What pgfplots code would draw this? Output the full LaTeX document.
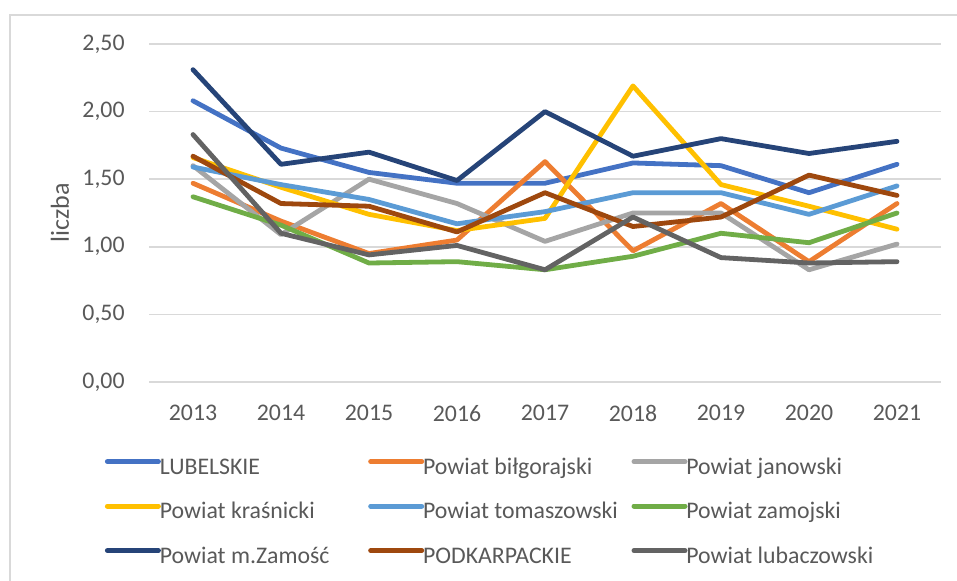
\documentclass[border=0pt]{standalone}
\usepackage{pgfplots}
\pgfplotsset{compat=1.18}
\usepackage{pgfplotstable}
\usepackage{fontspec}
\setmainfont{Carlito}

\definecolor{txt}{HTML}{595959}
\definecolor{gridc}{HTML}{D9D9D9}
\definecolor{cLub}{HTML}{4472C4}
\definecolor{cBil}{HTML}{ED7D31}
\definecolor{cJan}{HTML}{A5A5A5}
\definecolor{cKra}{HTML}{FFC000}
\definecolor{cTom}{HTML}{5B9BD5}
\definecolor{cZam}{HTML}{70AD47}
\definecolor{cMza}{HTML}{264478}
\definecolor{cPod}{HTML}{9E480E}
\definecolor{cLuba}{HTML}{636363}

% values
\pgfplotstableread{
year lub  bil  jan  kra  tom  zam  mza  pod  luba
2013 2.08 1.47 1.60 1.66 1.59 1.37 2.31 1.67 1.83
2014 1.73 1.19 1.09 1.44 1.46 1.16 1.61 1.32 1.10
2015 1.55 0.95 1.50 1.24 1.35 0.88 1.70 1.30 0.94
2016 1.47 1.05 1.32 1.12 1.17 0.89 1.49 1.11 1.01
2017 1.47 1.63 1.04 1.21 1.26 0.83 2.00 1.40 0.83
2018 1.62 0.97 1.25 2.19 1.40 0.93 1.67 1.15 1.22
2019 1.60 1.32 1.25 1.46 1.40 1.10 1.80 1.22 0.92
2020 1.40 0.89 0.83 1.30 1.24 1.03 1.69 1.53 0.88
2021 1.61 1.32 1.02 1.13 1.45 1.25 1.78 1.38 0.89
}\data

\newcommand{\lab}[1]{\makebox[103.25pt][l]{#1}}

\begin{document}
\begin{tikzpicture}
\useasboundingbox (0pt,0pt) rectangle (478.5pt,290.5pt);
\draw[gridc, line width=0.75pt] (5pt,0pt) -- (5pt,283pt) -- (478.5pt,283pt);

\begin{axis}[
    at={(74.5pt,99.5pt)}, anchor=south west,
    scale only axis, width=396pt, height=169pt,
    xmin=2012.5, xmax=2021.5,
    ymin=0, ymax=2.5,
    xtick={2013,2014,2015,2016,2017,2018,2019,2020,2021},
    ytick={0,0.5,1,1.5,2,2.5},
    axis line style={draw=none},
    major tick length=0pt,
    ymajorgrids,
    grid style={gridc, line width=0.75pt},
    ylabel={liczba},
    every axis y label/.style={at={(axis description cs:-0.1124,0.5)}, rotate=90, anchor=center,
        text=txt, font=\fontsize{13}{15}\selectfont},
    /pgf/number format/assume math mode=true,
    tick label style={text=txt, font=\fontsize{11.9}{14}\selectfont},
    xticklabel style={/pgf/number format/set thousands separator={}, inner sep=0pt, anchor=north, yshift=-11.5pt},
    yticklabel style={/pgf/number format/.cd, fixed, fixed zerofill, precision=2, use comma,
        /tikz/.cd, inner sep=0pt, anchor=east, xshift=-12pt},
    legend columns=3,
    legend cell align=left,
    legend style={at={(-0.05808,-0.22633)}, anchor=north west,
        draw=none, fill=none, inner sep=0pt, outer sep=0pt,
        text=txt, font=\fontsize{11.9}{14}\selectfont,
        nodes={inner sep=0pt, text height=8pt, text depth=2.5pt},
        row sep=11.75pt,
        /tikz/every odd column/.append style={column sep=-1.5pt}},
    legend image code/.code={\draw[#1, line width=2.5pt, line cap=round] (1pt,3.7pt) -- (26.5pt,3.7pt);
        \path (0pt,3.7pt) (27.5pt,3.7pt);},
    every axis plot/.append style={line width=2.4pt, line join=round, line cap=round, mark=none},
]
\addplot[cLub] table[x=year, y=lub] {\data};
\addlegendentry{\lab{LUBELSKIE}}
\addplot[cBil] table[x=year, y=bil] {\data};
\addlegendentry{\lab{Powiat biłgorajski}}
\addplot[cJan] table[x=year, y=jan] {\data};
\addlegendentry{\lab{Powiat janowski}}
\addplot[cKra] table[x=year, y=kra] {\data};
\addlegendentry{\lab{Powiat kraśnicki}}
\addplot[cTom] table[x=year, y=tom] {\data};
\addlegendentry{\lab{Powiat tomaszowski}}
\addplot[cZam] table[x=year, y=zam] {\data};
\addlegendentry{\lab{Powiat zamojski}}
\addplot[cMza] table[x=year, y=mza] {\data};
\addlegendentry{\lab{Powiat m.Zamość}}
\addplot[cPod] table[x=year, y=pod] {\data};
\addlegendentry{\lab{PODKARPACKIE}}
\addplot[cLuba] table[x=year, y=luba] {\data};
\addlegendentry{\lab{Powiat lubaczowski}}
\end{axis}
\end{tikzpicture}
\end{document}
